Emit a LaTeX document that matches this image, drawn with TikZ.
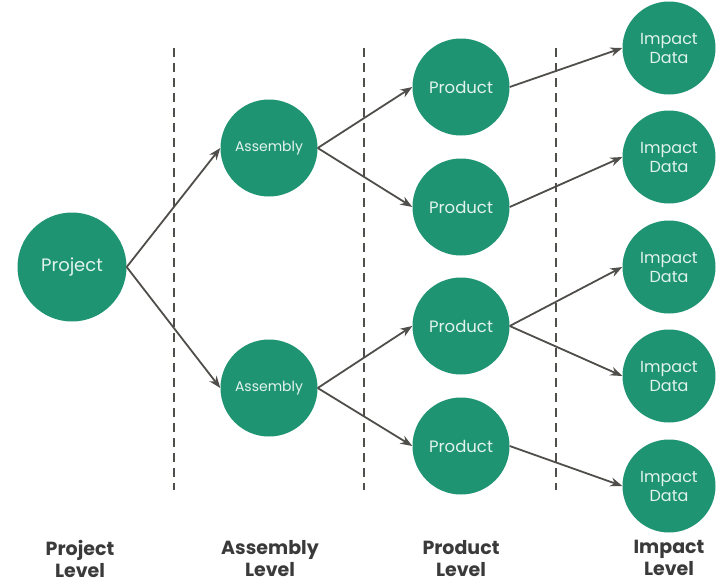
\documentclass[tikz,border=0pt]{standalone}
\usepackage{fontspec}
\setmainfont{Poppins}
\usetikzlibrary{arrows.meta}
\definecolor{leaf}{RGB}{31,148,115}
\definecolor{leaftext}{RGB}{226,243,236}
\definecolor{wire}{RGB}{80,78,74}
\definecolor{lab}{RGB}{58,58,58}

\begin{document}
\begin{tikzpicture}[x=1pt,y=-1pt,
lvl/.style={circle,fill=leaf,text=leaftext,inner sep=0pt,align=center},
proj/.style={lvl,minimum size=109pt,font=\fontsize{18}{20}\selectfont},
asm/.style={lvl,minimum size=97pt,font=\fontsize{14}{16}\selectfont},
prod/.style={lvl,minimum size=97pt,font=\fontsize{16.5}{18}\selectfont},
imp/.style={lvl,minimum size=93pt,font=\fontsize{16}{19}\selectfont},
levlab/.style={align=center,text=lab,font=\bfseries\fontsize{19}{22}\selectfont},
link/.style={draw=wire,line width=1.8pt,-{Stealth[length=12pt,width=9pt]}},
sep/.style={draw=wire,line width=1.5pt,dash pattern=on 9pt off 6pt}]
	\useasboundingbox (0,0) rectangle (717,584);
	%level separators
	\draw[sep] (174,48) -- (174,490);
	\draw[sep] (364,48) -- (364,490);
	\draw[sep] (556,48) -- (556,490);
	%project
	\node[proj] at (72,267) (p) {Project};
	%assemblies
	\node[asm] at (269,148) (a1) {Assembly};
	\node[asm] at (269,388) (a2) {Assembly};
	%products
	\node[prod] at (461,87) (d1) {Product};
	\node[prod] at (461,207) (d2) {Product};
	\node[prod] at (461,326) (d3) {Product};
	\node[prod] at (461,446) (d4) {Product};
	%impact data
	\node[imp] at (669,48) (i1) {Impact\\Data};
	\node[imp] at (669,157) (i2) {Impact\\Data};
	\node[imp] at (669,267) (i3) {Impact\\Data};
	\node[imp] at (669,376) (i4) {Impact\\Data};
	\node[imp] at (669,486) (i5) {Impact\\Data};
	%links
	\draw[link] (p.east) -- (a1.west);
	\draw[link] (p.east) -- (a2.west);
	\draw[link] (a1.east) -- (d1.west);
	\draw[link] (a1.east) -- (d2.west);
	\draw[link] (a2.east) -- (d3.west);
	\draw[link] (a2.east) -- (d4.west);
	\draw[link] (d1.east) -- (i1.west);
	\draw[link] (d2.east) -- (i2.west);
	\draw[link] (d3.east) -- (i3.west);
	\draw[link] (d3.east) -- (i4.west);
	\draw[link] (d4.east) -- (i5.west);
	%level labels
	\node[levlab] at (80,559) (l1) {Project\\Level};
	\node[levlab] at (270,559) (l2) {Assembly\\Level};
	\node[levlab] at (461,559) (l3) {Product\\Level};
	\node[levlab] at (669,558) (l4) {Impact\\Level};
\end{tikzpicture}
\end{document}
